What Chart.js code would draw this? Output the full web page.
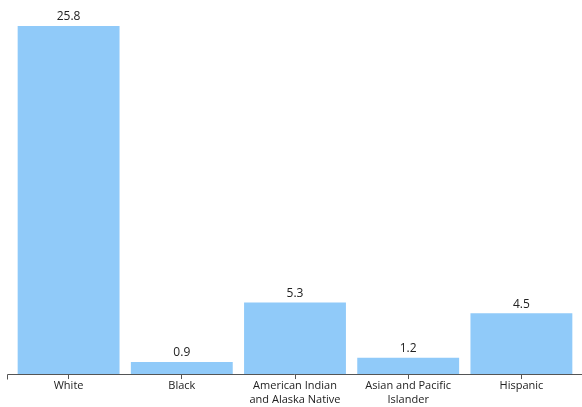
<!DOCTYPE html>
<html>
<head>
<meta charset="utf-8">
<script src="https://cdn.jsdelivr.net/npm/chart.js@4"></script>
<style>
  html, body { margin: 0; padding: 0; background: #fff; }
  #wrap { width: 582px; height: 407px; }
</style>
</head>
<body>
<div id="wrap"><canvas id="barChart"></canvas></div>
<script>
const groups = ['White', 'Black', ['American Indian', 'and Alaska Native'], ['Asian and Pacific', 'Islander'], 'Hispanic'];
const values = [25.8, 0.9, 5.3, 1.2, 4.5];

// value above each bar
const barLabels = {
    id: 'barLabels',
    afterDatasetsDraw(chart) {
        const ctx = chart.ctx;
        const meta = chart.getDatasetMeta(0);
        ctx.save();
        ctx.font = '12px "Open Sans"';
        ctx.fillStyle = '#222';
        ctx.textAlign = 'center';
        ctx.textBaseline = 'bottom';
        meta.data.forEach((bar, i) => {
            ctx.fillText(values[i].toFixed(1), bar.x, bar.y - 3);
        });
        ctx.restore();
    }
};

// baseline running the full width with a short tick at its left end
const baseLine = {
    id: 'baseLine',
    afterDraw(chart) {
        const ctx = chart.ctx;
        const y = Math.round(chart.scales.y.getPixelForValue(0)) + 0.5;
        ctx.save();
        ctx.strokeStyle = '#555';
        ctx.lineWidth = 1;
        ctx.beginPath();
        ctx.moveTo(7.5, y + 5);
        ctx.lineTo(7.5, y);
        ctx.lineTo(chart.width, y);
        ctx.stroke();
        ctx.restore();
    }
};

const CHART = document.getElementById('barChart');
let barChart = new Chart(CHART, {
    type: 'bar',
    data: {
        labels: groups,
        datasets: [{
            data: values,
            backgroundColor: '#90CAF9',
            barPercentage: 0.9,
            categoryPercentage: 1.0
        }]
    },
    options: {
        responsive: true,
        maintainAspectRatio: false,
        animation: false,
        layout: { padding: { top: 26, left: 12, right: 4, bottom: 0 } },
        plugins: {
            legend: { display: false },
            tooltip: { enabled: false }
        },
        scales: {
            x: {
                grid: {
                    offset: false,
                    drawOnChartArea: false,
                    drawTicks: true,
                    tickLength: 5,
                    color: '#555'
                },
                border: { display: false },
                ticks: {
                    color: '#222',
                    font: { family: 'Open Sans', size: 11, lineHeight: 1.27 },
                    padding: 0,
                    maxRotation: 0,
                    autoSkip: false
                }
            },
            y: {
                display: false,
                min: 0,
                max: 25.8
            }
        }
    },
    plugins: [barLabels, baseLine]
});
</script>
</body>
</html>
